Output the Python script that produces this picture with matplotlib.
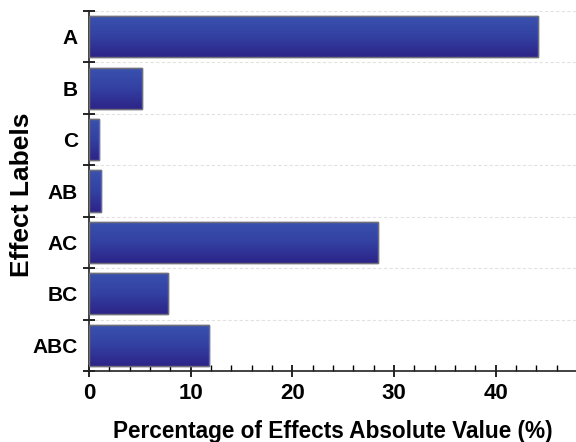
import matplotlib
matplotlib.use("Agg")
import matplotlib.pyplot as plt
import numpy as np
from matplotlib.colors import LinearSegmentedColormap
from matplotlib.ticker import MultipleLocator, FixedLocator

labels = ["A", "B", "C", "AB", "AC", "BC", "ABC"]
values = [44.2, 5.25, 0.98, 1.15, 28.4, 7.75, 11.85]

plt.rcParams['font.family'] = ['Liberation Sans', 'DejaVu Sans']
plt.rcParams['font.weight'] = 'bold'

fig = plt.figure(figsize=(5.76, 4.42), dpi=100)
ax = fig.add_axes([0.1545, 0.1606, 0.8455, 0.8144])

pos = np.arange(len(labels))
bars = ax.barh(pos, values, height=0.8, color='#33399e', edgecolor='#6f6f7a',
               linewidth=1.0, zorder=3)

cmap = LinearSegmentedColormap.from_list('g', ['#3a52ae', '#3341a2', '#2d2488'])
grad = np.linspace(0, 1, 64).reshape(-1, 1)
for b in bars:
    x0, y0 = b.get_x(), b.get_y()
    w, h = b.get_width(), b.get_height()
    im = ax.imshow(grad, cmap=cmap, aspect='auto', extent=(x0, x0 + w, y0, y0 + h),
                   origin='lower', zorder=3.5)
    im.set_clip_path(b)
    ax.add_patch(plt.Rectangle((x0, y0), w, h, fill=False, edgecolor='#6f6f7a',
                               linewidth=1.0, zorder=4))

ax.set_xlim(0, 47.9)
ax.set_ylim(len(labels) - 0.5, -0.5)

ax.set_yticks(pos)
ax.set_yticklabels(labels, fontsize=15, fontweight='bold')
ax.yaxis.set_minor_locator(FixedLocator(np.arange(-0.5, len(labels), 1.0)))
ax.tick_params(axis='y', which='major', length=0, pad=8)
ax.tick_params(axis='y', which='minor', direction='inout', length=8, width=1.2)
ax.grid(axis='y', which='minor', linestyle=(0, (3, 2)), color='#e2e2e2', linewidth=0.8, zorder=1)

ax.xaxis.set_major_locator(MultipleLocator(10))
ax.xaxis.set_minor_locator(MultipleLocator(2))
ax.tick_params(axis='x', which='major', direction='inout', length=9, width=1.2, labelsize=16, pad=4)
ax.tick_params(axis='x', which='minor', direction='in', length=4, width=1.0)
for t in ax.get_xticklabels():
    t.set_fontweight('bold')

for s in ['top', 'right']:
    ax.spines[s].set_visible(False)
for s in ['left', 'bottom']:
    ax.spines[s].set_linewidth(1.2)
    ax.spines[s].set_color('#222222')

ax.set_xlabel('Percentage of Effects Absolute Value (%)', fontsize=16.3, fontweight='bold', labelpad=12)
ax.set_ylabel('Effect Labels', fontsize=19, fontweight='bold')
ax.yaxis.set_label_coords(-0.112, 0.489)

fig.savefig('out.png', dpi=100)
